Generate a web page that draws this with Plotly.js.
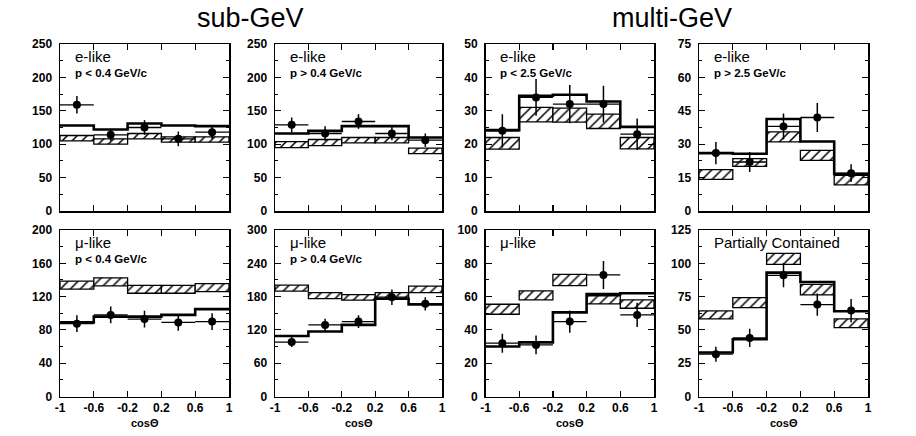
<!DOCTYPE html>
<html><head><meta charset="utf-8">
<script src="https://cdn.plot.ly/plotly-3.0.1.min.js"></script>
<style>html,body{margin:0;padding:0;background:#fff}#plot{width:916px;height:436px}</style>
</head><body><div id="plot"></div>
<script>
// ---- shared bins / ticks ----
const binEdges = [-1, -0.6, -0.2, 0.2, 0.6, 1];
const xTickVals = [-1, -0.6, -0.2, 0.2, 0.6, 1];
const xTickText = ['-1', '-0.6', '-0.2', '0.2', '0.6', '1'];
const groupTitles = ['sub-GeV', 'multi-GeV'];
const axisTitle = 'cosΘ';

// ---- panel 1: sub-GeV e-like p<0.4 ----
const p1Label = ['e-like', 'p < 0.4 GeV/c'];
const p1Data = [159, 114, 125, 108, 118];
const p1Err = [13, 9, 11, 11, 10];
const p1Fit = [128, 122, 131, 128, 127];
const p1Lo = [105, 100, 108, 103, 103];
const p1Hi = [113, 108, 116, 111, 111];
const p1YTicks = [0, 50, 100, 150, 200, 250];

// ---- panel 2: sub-GeV e-like p>0.4 ----
const p2Label = ['e-like', 'p > 0.4 GeV/c'];
const p2Data = [129, 116, 134, 116, 106];
const p2Err = [11, 11, 11, 10, 10];
const p2Fit = [116, 120, 127, 127, 110];
const p2Lo = [95, 98, 102, 102, 86];
const p2Hi = [104, 107, 110, 110, 94];
const p2YTicks = [0, 50, 100, 150, 200, 250];

// ---- panel 3: multi-GeV e-like p<2.5 ----
const p3Label = ['e-like', 'p < 2.5 GeV/c'];
const p3Data = [24, 34, 32, 32, 23];
const p3Err = [5, 5.5, 5.7, 5.5, 4.7];
const p3Fit = [24.2, 34.5, 34.8, 32.8, 25.2];
const p3Lo = [18.5, 26.7, 26.6, 24.7, 18.6];
const p3Hi = [22, 31, 30.8, 29, 22];
const p3YTicks = [0, 10, 20, 30, 40, 50];

// ---- panel 4: multi-GeV e-like p>2.5 ----
const p4Label = ['e-like', 'p > 2.5 GeV/c'];
const p4Data = [26, 22, 38, 42, 17];
const p4Err = [5, 4.5, 5.8, 6.5, 4];
const p4Fit = [26, 25.7, 41.3, 31.2, 16.6];
const p4Lo = [14.2, 20, 31, 22.7, 11.7];
const p4Hi = [18.6, 23.5, 35.5, 27.2, 16];
const p4YTicks = [0, 15, 30, 45, 60, 75];

// ---- panel 5: sub-GeV mu-like p<0.4 ----
const p5Label = ['μ-like', 'p < 0.4 GeV/c'];
const p5Data = [87.5, 98, 93, 89, 90];
const p5Err = [10, 10, 10, 10, 10];
const p5Fit = [89, 96, 96, 98, 105];
const p5Lo = [129, 133, 124, 124, 126];
const p5Hi = [138.5, 142.5, 133.5, 133.5, 135.5];
const p5YTicks = [0, 40, 80, 120, 160, 200];

// ---- panel 6: sub-GeV mu-like p>0.4 ----
const p6Label = ['μ-like', 'p > 0.4 GeV/c'];
const p6Data = [98, 129, 135, 179, 167];
const p6Err = [9, 11, 11.5, 14, 12];
const p6Fit = [109, 117, 129, 176, 166];
const p6Lo = [190, 176.5, 173.5, 176.5, 187];
const p6Hi = [200.5, 187, 183.5, 187, 199];
const p6YTicks = [0, 60, 120, 180, 240, 300];

// ---- panel 7: multi-GeV mu-like ----
const p7Label = ['μ-like', ''];
const p7Data = [32, 31, 45, 73, 49];
const p7Err = [5.7, 5.6, 6.7, 8.4, 7.3];
const p7Fit = [30, 32.5, 50.5, 61.5, 62];
const p7Lo = [49.4, 58, 66.6, 55.6, 53];
const p7Hi = [55.4, 63.4, 73.4, 60.5, 58];
const p7YTicks = [0, 20, 40, 60, 80, 100];

// ---- panel 8: partially contained ----
const p8Label = ['Partially Contained', ''];
const p8Data = [31.75, 44, 91, 69, 64.5];
const p8Err = [5.6, 6.9, 9, 8.4, 8.7];
const p8Fit = [33, 43, 93, 86, 64];
const p8Lo = [58.25, 66.75, 99.25, 76.25, 51.75];
const p8Hi = [64.25, 74.25, 107.5, 84.25, 58.25];
const p8YTicks = [0, 25, 50, 75, 100, 125];

// ---- build ----
const panels = [
  {label: p1Label, data: p1Data, err: p1Err, fit: p1Fit, lo: p1Lo, hi: p1Hi, yt: p1YTicks},
  {label: p2Label, data: p2Data, err: p2Err, fit: p2Fit, lo: p2Lo, hi: p2Hi, yt: p2YTicks},
  {label: p3Label, data: p3Data, err: p3Err, fit: p3Fit, lo: p3Lo, hi: p3Hi, yt: p3YTicks},
  {label: p4Label, data: p4Data, err: p4Err, fit: p4Fit, lo: p4Lo, hi: p4Hi, yt: p4YTicks},
  {label: p5Label, data: p5Data, err: p5Err, fit: p5Fit, lo: p5Lo, hi: p5Hi, yt: p5YTicks},
  {label: p6Label, data: p6Data, err: p6Err, fit: p6Fit, lo: p6Lo, hi: p6Hi, yt: p6YTicks},
  {label: p7Label, data: p7Data, err: p7Err, fit: p7Fit, lo: p7Lo, hi: p7Hi, yt: p7YTicks},
  {label: p8Label, data: p8Data, err: p8Err, fit: p8Fit, lo: p8Lo, hi: p8Hi, yt: p8YTicks}
];

const W = 916, H = 436;
const colPx = [[60, 229], [275, 442], [485.5, 654], [699, 868]];
const rowPx = [[44, 211], [230, 396.5]];
const FONT = 'Liberation Sans, Arial, Helvetica, sans-serif';

const centers = binEdges.slice(0, -1).map((e, i) => (e + binEdges[i + 1]) / 2);
const binW = binEdges[1] - binEdges[0];

const traces = [];
const layout = {
  width: W, height: H,
  margin: {l: 0, r: 0, t: 0, b: 0},
  paper_bgcolor: '#fff', plot_bgcolor: '#fff',
  showlegend: false,
  annotations: [],
  font: {family: FONT, color: '#000'}
};

panels.forEach((p, i) => {
  const n = i + 1;
  const sx = n === 1 ? '' : String(n);
  const xa = 'x' + sx, ya = 'y' + sx;
  const col = i % 4, row = Math.floor(i / 4);

  // hatched no-oscillation boxes
  traces.push({
    type: 'bar', x: centers, base: p.lo, y: p.hi.map((h, k) => h - p.lo[k]),
    width: binW, xaxis: xa, yaxis: ya, hoverinfo: 'skip',
    marker: {color: '#fff',
      pattern: {shape: '/', fgcolor: '#000', bgcolor: '#fff', size: 7, solidity: 0.22},
      line: {color: '#000', width: 1.3}}
  });
  // best-fit oscillation step line
  traces.push({
    type: 'scatter', mode: 'lines', x: binEdges, y: p.fit.concat([p.fit[p.fit.length - 1]]),
    xaxis: xa, yaxis: ya, hoverinfo: 'skip',
    line: {shape: 'hv', color: '#000', width: 2.6}
  });
  // data points
  traces.push({
    type: 'scatter', mode: 'markers', x: centers, y: p.data,
    xaxis: xa, yaxis: ya,
    marker: {color: '#000', size: 8},
    error_y: {type: 'data', array: p.err, visible: true, thickness: 1.5, width: 0, color: '#000'},
    error_x: {type: 'constant', value: binW / 2, visible: true, thickness: 1.3, width: 0, color: '#000'}
  });

  const yMax = p.yt[p.yt.length - 1];
  const dt = p.yt[1] - p.yt[0];
  layout['xaxis' + sx] = {
    domain: [colPx[col][0] / W, colPx[col][1] / W],
    anchor: ya, range: [-1, 1],
    tickmode: 'array', tickvals: xTickVals, ticktext: xTickText,
    ticks: 'inside', ticklen: 6, tickwidth: 1.2, tickcolor: '#000',
    showline: true, linewidth: 1.5, linecolor: '#000', mirror: 'ticks',
    showgrid: false, zeroline: false,
    showticklabels: row === 1, ticklabelstandoff: 0,
    tickfont: {family: FONT, size: 12, color: '#000', weight: 'bold'},
    fixedrange: true
  };
  layout['yaxis' + sx] = {
    domain: [1 - rowPx[row][1] / H, 1 - rowPx[row][0] / H],
    anchor: xa, range: [0, yMax],
    tickmode: 'array', tickvals: p.yt, ticktext: p.yt.map(String),
    ticks: 'inside', ticklen: 6, tickwidth: 1.2, tickcolor: '#000',
    minor: {ticks: 'inside', ticklen: 3, tickwidth: 1, tickcolor: '#000', tickmode: 'linear', tick0: dt / 2, dtick: dt, showgrid: false},
    showline: true, linewidth: 1.5, linecolor: '#000', mirror: 'ticks',
    showgrid: false, zeroline: false, ticklabelstandoff: 4,
    tickfont: {family: FONT, size: 12, color: '#000', weight: 'bold'},
    fixedrange: true
  };

  // panel labels
  const big = p.label[0] === 'Partially Contained';
  layout.annotations.push({
    xref: xa + ' domain', yref: ya + ' domain', x: 0.075, y: 0.925,
    xanchor: 'left', yanchor: 'middle', showarrow: false, text: p.label[0],
    font: {family: FONT, size: big ? 15 : 15, color: '#000'}
  });
  if (p.label[1]) {
    layout.annotations.push({
      xref: xa + ' domain', yref: ya + ' domain', x: 0.075, y: 0.825,
      xanchor: 'left', yanchor: 'middle', showarrow: false, text: p.label[1],
      font: {family: FONT, size: 11.5, color: '#000', weight: 'bold'}
    });
  }
  if (row === 1) {
    layout.annotations.push({
      xref: xa + ' domain', yref: 'paper', x: 0.5, y: 1 - 423 / H,
      xanchor: 'center', yanchor: 'middle', showarrow: false, text: axisTitle,
      font: {family: FONT, size: 11, color: '#000', weight: 'bold'}
    });
  }
});

// group titles
layout.annotations.push({
  xref: 'paper', yref: 'paper', x: 250 / W, y: 1 - 18 / H, xanchor: 'center', yanchor: 'middle',
  showarrow: false, text: groupTitles[0], font: {family: FONT, size: 27, color: '#000'}
});
layout.annotations.push({
  xref: 'paper', yref: 'paper', x: 672 / W, y: 1 - 18 / H, xanchor: 'center', yanchor: 'middle',
  showarrow: false, text: groupTitles[1], font: {family: FONT, size: 27, color: '#000'}
});

Plotly.newPlot('plot', traces, layout, {staticPlot: true, displayModeBar: false});
</script>
</body></html>
